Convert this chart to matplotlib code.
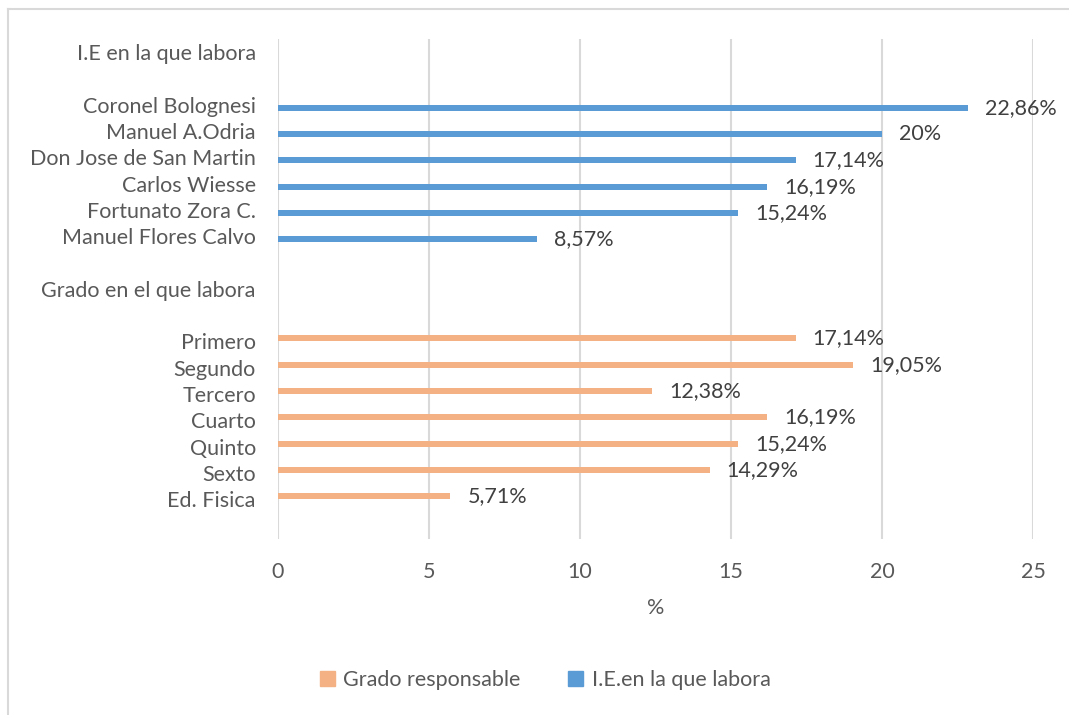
import matplotlib.pyplot as plt
from matplotlib.patches import Patch
from matplotlib.lines import Line2D

# rows from top to bottom (headers and blank rows included, as in the sheet)
rows = ["I.E en la que labora", "",
        "Coronel Bolognesi", "Manuel A.Odria", "Don Jose de San Martin",
        "Carlos Wiesse", "Fortunato Zora C.", "Manuel Flores Calvo", "",
        "Grado en el que labora", "",
        "Primero", "Segundo", "Tercero", "Cuarto", "Quinto", "Sexto",
        "Ed. Fisica", ""]

ie_names = ["Coronel Bolognesi", "Manuel A.Odria", "Don Jose de San Martin",
            "Carlos Wiesse", "Fortunato Zora C.", "Manuel Flores Calvo"]
ie_values = [22.86, 20.0, 17.14, 16.19, 15.24, 8.57]
ie_labels = ["22,86%", "20%", "17,14%", "16,19%", "15,24%", "8,57%"]

grado_names = ["Primero", "Segundo", "Tercero", "Cuarto", "Quinto", "Sexto", "Ed. Fisica"]
grado_values = [17.14, 19.05, 12.38, 16.19, 15.24, 14.29, 5.71]
grado_labels = ["17,14%", "19,05%", "12,38%", "16,19%", "15,24%", "14,29%", "5,71%"]

blue = "#5B9BD5"
orange = "#F4B183"
txt = "#595959"

plt.rcParams['font.family'] = ['Lato', 'DejaVu Sans']
fs = 15.5

fig = plt.figure(figsize=(10.69, 7.15), dpi=100)
ax = fig.add_axes([0.2601, 0.2466, 0.7063, 0.6989])

bh = 0.23
y_ie = [rows.index(n) + bh / 2 for n in ie_names]
y_gr = [rows.index(n) - bh / 2 for n in grado_names]

ax.barh(y_gr, grado_values, height=bh, color=orange, zorder=3)
ax.barh(y_ie, ie_values, height=bh, color=blue, zorder=3)

for v, y, s in zip(ie_values, y_ie, ie_labels):
    ax.annotate(s, (v, y), xytext=(17, 0), textcoords='offset pixels',
                va='center', ha='left', fontsize=fs, color="#404040")
for v, y, s in zip(grado_values, y_gr, grado_labels):
    ax.annotate(s, (v, y), xytext=(17, 0), textcoords='offset pixels',
                va='center', ha='left', fontsize=fs, color="#404040")

ax.set_ylim(len(rows) - 0.5, -0.5)
ax.set_yticks(range(len(rows)))
ax.set_yticklabels(rows, fontsize=fs, color=txt)
ax.set_xlim(0, 25)
ax.set_xticks([0, 5, 10, 15, 20, 25])
ax.set_xticklabels(["0", "5", "10", "15", "20", "25"], fontsize=fs, color=txt)
ax.tick_params(length=0, pad=17)
ax.tick_params(axis='y', pad=16)
ax.grid(axis='x', color="#D9D9D9", linewidth=1.5, zorder=0)
for sp in ax.spines.values():
    sp.set_visible(False)
ax.set_xlabel("%", fontsize=fs, color=txt, labelpad=11)

handles = [Patch(color=orange, label="Grado responsable"),
           Patch(color=blue, label="I.E.en la que labora")]
fig.legend(handles=handles, loc='center', bbox_to_anchor=(545 / 1069, 1 - 680 / 715),
           ncol=2, frameon=False, fontsize=fs, labelcolor=txt,
           handlelength=0.7, handleheight=0.7, handletextpad=0.4, columnspacing=2.2)

# chart border (top and left visible)
fig.add_artist(Line2D([8 / 1069, 8 / 1069], [0, 1 - 9 / 715], transform=fig.transFigure,
                      color="#D9D9D9", linewidth=1.5))
fig.add_artist(Line2D([8 / 1069, 1], [1 - 9 / 715, 1 - 9 / 715], transform=fig.transFigure,
                      color="#D9D9D9", linewidth=1.5))

fig.savefig("out.png", dpi=100)
